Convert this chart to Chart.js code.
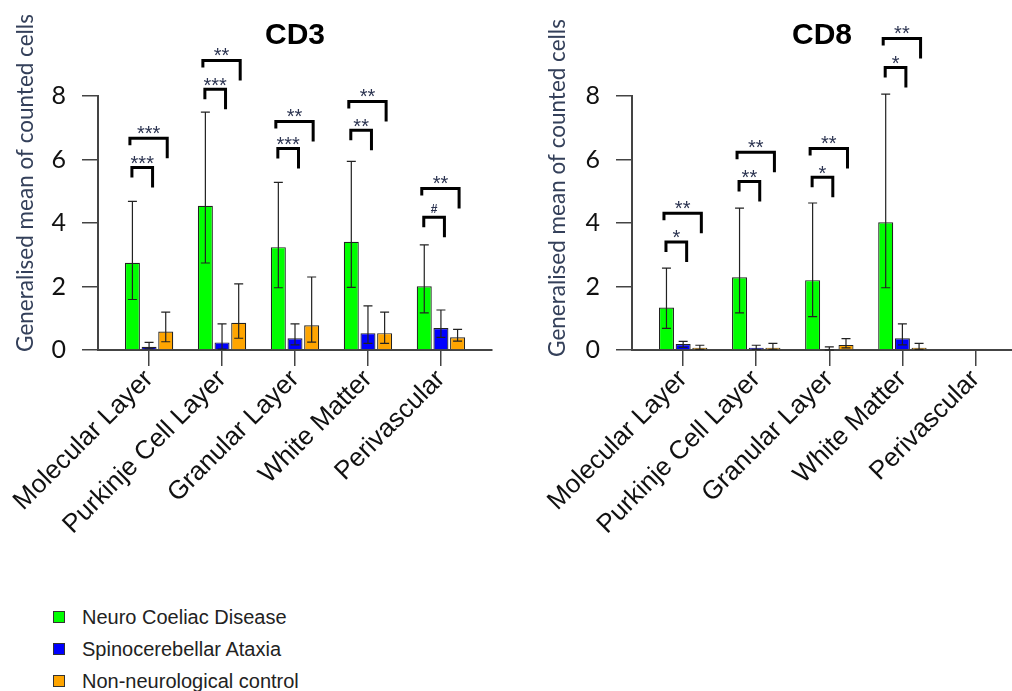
<!DOCTYPE html>
<html>
<head>
<meta charset="utf-8">
<script src="https://cdn.jsdelivr.net/npm/chart.js@4.4.1/dist/chart.umd.min.js"></script>
<style>
  html, body { margin: 0; padding: 0; background: #fff; }
  body { width: 1012px; height: 691px; position: relative; overflow: hidden;
         font-family: "Liberation Sans", Arial, sans-serif; }
  canvas { position: absolute; top: 0; }
  #cd3 { left: 0; }
  #cd8 { left: 500px; }
  .legend { position: absolute; left: 53px; top: 601px; }
  .legend-row { display: flex; align-items: center; height: 32px; font-size: 20px; color: #222; }
  .swatch { width: 12px; height: 12px; border: 1px solid #333; box-sizing: border-box; margin-right: 17px; }
</style>
</head>
<body>
<canvas id="cd3" width="500" height="560"></canvas>
<canvas id="cd8" width="512" height="560"></canvas>
<div class="legend" id="legend"></div>

<script>
/* ─── Data ─────────────────────────────────────────────────────────────── */
const categories  = ['Molecular Layer', 'Purkinje Cell Layer', 'Granular Layer', 'White Matter', 'Perivascular'];
const seriesNames = ['Neuro Coeliac Disease', 'Spinocerebellar Ataxia', 'Non-neurological control'];
const seriesColors = ['#00ff00', '#0000ff', '#ffa500'];
const yTicks = [0, 2, 4, 6, 8];

// CD3: means and [low, high] error bounds
const cd3Coeliac    = [2.75, 4.54, 3.24, 3.41, 2.01];
const cd3CoeliacErr = [[1.59, 4.68], [2.74, 7.49], [1.96, 5.28], [1.97, 5.94], [1.17, 3.31]];
const cd3Ataxia     = [0.10, 0.24, 0.37, 0.53, 0.69];
const cd3AtaxiaErr  = [[0.04, 0.24], [0.03, 0.82], [0.16, 0.82], [0.21, 1.39], [0.40, 1.26]];
const cd3Control    = [0.58, 0.86, 0.78, 0.53, 0.40];
const cd3ControlErr = [[0.26, 1.19], [0.37, 2.08], [0.25, 2.30], [0.21, 1.19], [0.28, 0.65]];
// significance brackets: coeliac vs ataxia (pair), coeliac vs control (wide)
const cd3PairLevel = [5.75, 8.21, 6.35, 6.92, 4.18];
const cd3PairMarks = ['***', '***', '***', '**', '#'];
const cd3WideLevel = [6.67, 9.12, 7.20, 7.83, 5.09];
const cd3WideMarks = ['***', '**', '**', '**', '**'];

// CD8
const cd8Coeliac    = [1.34, 2.29, 2.20, 4.02, null];
const cd8CoeliacErr = [[0.68, 2.58], [1.17, 4.47], [1.05, 4.63], [1.96, 8.06], null];
const cd8Ataxia     = [0.19, 0.07, 0.03, 0.37, null];
const cd8AtaxiaErr  = [[0.08, 0.27], [0.02, 0.15], [0.00, 0.10], [0.16, 0.82], null];
const cd8Control    = [0.07, 0.07, 0.16, 0.07, null];
const cd8ControlErr = [[0.02, 0.15], [0.02, 0.21], [0.07, 0.36], [0.02, 0.21], null];
const cd8PairLevel = [3.40, 5.31, 5.44, 8.90, null];
const cd8PairMarks = ['*', '**', '*', '*', null];
const cd8WideLevel = [4.31, 6.23, 6.35, 9.81, null];
const cd8WideMarks = ['**', '**', '**', '**', null];

/* ─── Helpers ──────────────────────────────────────────────────────────── */
const AXIS = '#444';
const yTitle = 'Generalised mean of counted cells';

function drawBracket(ctx, x1, x2, top, leftLeg, rightLeg) {
  ctx.beginPath();
  ctx.moveTo(x1, top + leftLeg);
  ctx.lineTo(x1, top);
  ctx.lineTo(x2, top);
  ctx.lineTo(x2, top + rightLeg);
  ctx.stroke();
}

function drawMark(ctx, text, x, yc) {
  ctx.textAlign = 'center';
  ctx.textBaseline = 'alphabetic';
  if (text === '#') {
    ctx.font = 'bold 12px "Liberation Sans", Arial';
    ctx.fillText(text, x, yc + 0.36 * 12);
  } else {
    ctx.font = '20px "Liberation Sans", Arial';
    ctx.fillText(text, x, yc + 0.57 * 20);
  }
}

const annotPlugin = {
  id: 'annot',
  afterDatasetsDraw(chart, args, opts) {
    const ctx = chart.ctx, ys = chart.scales.y;
    ctx.save();
    ctx.strokeStyle = '#222';
    ctx.lineWidth = 1.2;
    opts.errors.forEach((errs, d) => {
      const meta = chart.getDatasetMeta(d);
      errs.forEach((e, i) => {
        if (!e) return;
        const x = meta.data[i].x;
        const lo = ys.getPixelForValue(e[0]);
        const hi = ys.getPixelForValue(e[1]);
        ctx.beginPath();
        ctx.moveTo(x, lo); ctx.lineTo(x, hi);
        ctx.moveTo(x - 4.5, hi); ctx.lineTo(x + 4.5, hi);
        ctx.moveTo(x - 4.5, lo); ctx.lineTo(x + 4.5, lo);
        ctx.stroke();
      });
    });
    ctx.restore();
  },
  afterDraw(chart, args, opts) {
    const ctx = chart.ctx, ys = chart.scales.y, area = chart.chartArea;
    const g = chart.getDatasetMeta(0).data;
    const b = chart.getDatasetMeta(1).data;
    const o = chart.getDatasetMeta(2).data;
    ctx.save();

    // brackets
    ctx.strokeStyle = '#000';
    ctx.lineWidth = 3;
    ctx.lineJoin = 'miter';
    ctx.fillStyle = '#2b3350';
    opts.pairLevel.forEach((lvl, i) => {
      if (lvl == null) return;
      const top = ys.getPixelForValue(lvl);
      const x1 = g[i].x - 0.5, x2 = b[i].x + 3.5;
      drawBracket(ctx, x1, x2, top, 10, 20);
      drawMark(ctx, opts.pairMarks[i], (x1 + x2) / 2, top - 9);
    });
    opts.wideLevel.forEach((lvl, i) => {
      if (lvl == null) return;
      const top = ys.getPixelForValue(lvl);
      const x1 = g[i].x - 2.5, x2 = o[i].x + 1.5;
      drawBracket(ctx, x1, x2, top, 7, 20);
      drawMark(ctx, opts.wideMarks[i], (x1 + x2) / 2, top - 10);
    });

    // chart title
    ctx.fillStyle = '#000';
    ctx.font = 'bold 30px "Liberation Sans", Arial';
    ctx.textAlign = 'center';
    ctx.textBaseline = 'middle';
    ctx.fillText(opts.title, (area.left + area.right) / 2, 36);

    // y axis title
    ctx.fillStyle = '#34405a';
    ctx.font = '22.5px Lato, "Open Sans", sans-serif';
    ctx.translate(opts.yTitleX, opts.yTitleY);
    ctx.rotate(-Math.PI / 2);
    ctx.fillText(yTitle, 0, 0);
    ctx.restore();
  }
};

function makeChart(id, series, errors, brackets, layout) {
  const datasets = series.map((vals, d) => ({
    label: seriesNames[d],
    data: vals.map((v, i) => ({ x: i, y: v })),
    backgroundColor: seriesColors[d],
    borderColor: '#222',
    borderWidth: 1.2,
    barPercentage: 0.9,
    categoryPercentage: 0.685
  }));

  return new Chart(document.getElementById(id), {
    type: 'bar',
    data: { datasets },
    plugins: [annotPlugin],
    options: {
      responsive: false,
      animation: false,
      layout: { padding: { top: 96, left: 0, right: layout.padRight, bottom: 0 } },
      plugins: {
        legend: { display: false },
        tooltip: { enabled: false },
        annot: Object.assign({ errors }, brackets, layout.text)
      },
      scales: {
        x: {
          type: 'linear',
          min: -0.7,
          max: layout.xMax,
          offset: false,
          afterBuildTicks: s => { s.ticks = categories.map((_, i) => ({ value: i })); },
          afterFit: s => { s.height = 210; s.paddingLeft = 0; s.paddingRight = 0; },
          ticks: {
            autoSkip: false,
            minRotation: 45,
            maxRotation: 45,
            padding: -2,
            color: '#111',
            font: { family: '"Liberation Sans", Arial', size: 26 },
            callback: v => categories[v]
          },
          grid: { offset: false, drawOnChartArea: false, tickLength: 16, color: AXIS, lineWidth: 1.5 },
          border: { color: AXIS, width: 2 }
        },
        y: {
          min: 0,
          max: 8,
          afterBuildTicks: s => { s.ticks = yTicks.map(v => ({ value: v })); },
          afterFit: s => { s.width = layout.yWidth; },
          ticks: {
            padding: 16,
            color: '#111',
            font: { family: 'Lato, "Open Sans", sans-serif', size: 25 }
          },
          grid: { drawOnChartArea: false, tickLength: 16, color: AXIS, lineWidth: 1.5 },
          border: { color: AXIS, width: 2 }
        }
      }
    }
  });
}

/* ─── Charts ───────────────────────────────────────────────────────────── */
makeChart('cd3',
  [cd3Coeliac, cd3Ataxia, cd3Control],
  [cd3CoeliacErr, cd3AtaxiaErr, cd3ControlErr],
  { pairLevel: cd3PairLevel, pairMarks: cd3PairMarks, wideLevel: cd3WideLevel, wideMarks: cd3WideMarks },
  { yWidth: 98, xMax: 4.7, padRight: 8, text: { title: 'CD3', yTitleX: 26, yTitleY: 183 } });

makeChart('cd8',
  [cd8Coeliac, cd8Ataxia, cd8Control],
  [cd8CoeliacErr, cd8AtaxiaErr, cd8ControlErr],
  { pairLevel: cd8PairLevel, pairMarks: cd8PairMarks, wideLevel: cd8WideLevel, wideMarks: cd8WideMarks },
  { yWidth: 132, xMax: 4.5, padRight: 0, text: { title: 'CD8', yTitleX: 58, yTitleY: 188 } });

/* ─── Legend ───────────────────────────────────────────────────────────── */
const legend = document.getElementById('legend');
seriesNames.forEach((name, i) => {
  const row = document.createElement('div');
  row.className = 'legend-row';
  const sw = document.createElement('span');
  sw.className = 'swatch';
  sw.style.background = seriesColors[i];
  const label = document.createElement('span');
  label.textContent = name;
  row.appendChild(sw);
  row.appendChild(label);
  legend.appendChild(row);
});
</script>
</body>
</html>
